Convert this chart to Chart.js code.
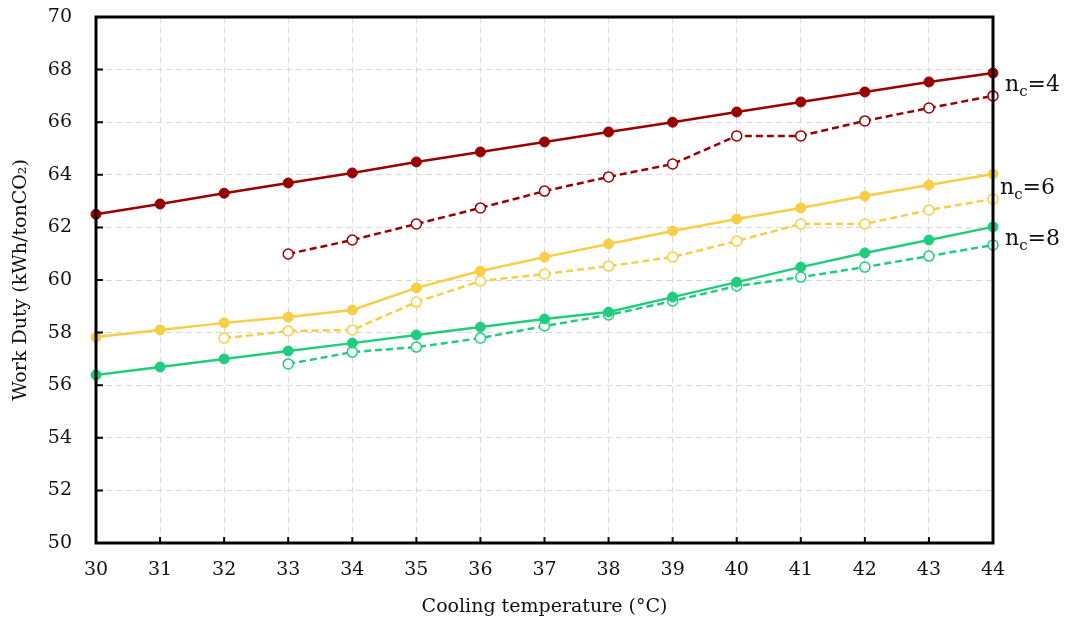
<!DOCTYPE html>
<html>
<head>
<meta charset="utf-8">
<script src="https://cdn.jsdelivr.net/npm/chart.js@4.4.1/dist/chart.umd.min.js"></script>
<style>
  body { margin: 0; background: #fff; }
  #wrap { width: 1069px; height: 626px; position: relative; }
</style>
</head>
<body>
<div id="wrap"><canvas id="workDuty"></canvas></div>
<script>
// cooling temperature (°C)
const temps = [30, 31, 32, 33, 34, 35, 36, 37, 38, 39, 40, 41, 42, 43, 44];

// work duty (kWh/tonCO2), solid = filled markers, dashed = open markers
const nc4Solid  = [62.5, 62.89, 63.3, 63.69, 64.07, 64.49, 64.87, 65.25, 65.63, 66.0, 66.39, 66.77, 67.15, 67.53, 67.87];
const nc4Dashed = [null, null, null, 60.99, 61.52, 62.13, 62.74, 63.38, 63.92, 64.41, 65.48, 65.48, 66.05, 66.54, 67.0];
const nc6Solid  = [57.83, 58.1, 58.37, 58.59, 58.86, 59.7, 60.34, 60.87, 61.37, 61.86, 62.32, 62.74, 63.19, 63.61, 64.03];
const nc6Dashed = [null, null, 57.79, 58.06, 58.1, 59.16, 59.96, 60.23, 60.53, 60.87, 61.48, 62.13, 62.13, 62.66, 63.08];
const nc8Solid  = [56.39, 56.69, 57.0, 57.3, 57.6, 57.91, 58.21, 58.52, 58.78, 59.35, 59.92, 60.49, 61.03, 61.52, 62.02];
const nc8Dashed = [null, null, null, 56.81, 57.26, 57.45, 57.79, 58.25, 58.67, 59.2, 59.77, 60.11, 60.49, 60.91, 61.33];

const yTicks = [50, 52, 54, 56, 58, 60, 62, 64, 66, 68, 70];

const red = '#990000';
const yellow = '#F7CE45';
const green = '#22CC7F';
const FONT = 'DejaVu Serif';

function toPoints(values) {
  return temps.map((t, i) => ({ x: t, y: values[i] })).filter(p => p.y !== null);
}

function solid(label, values, color) {
  return {
    label: label,
    data: toPoints(values),
    borderColor: color,
    backgroundColor: color,
    borderWidth: 2.5,
    pointRadius: 5,
    pointBorderWidth: 1,
    pointBackgroundColor: color,
    pointBorderColor: color,
    clip: false
  };
}

function dashed(label, values, color) {
  return {
    label: label,
    data: toPoints(values),
    borderColor: color,
    backgroundColor: '#fff',
    borderWidth: 2.5,
    borderDash: [7, 4],
    pointRadius: 5,
    pointBorderWidth: 1.5,
    pointBackgroundColor: '#fff',
    pointBorderColor: color,
    clip: false
  };
}

// frame, inward ticks and the n_c labels
const framePlugin = {
  id: 'frame',
  afterDraw(chart) {
    const ctx = chart.ctx;
    const a = chart.chartArea;
    const xs = chart.scales.x, ys = chart.scales.y;
    ctx.save();
    ctx.strokeStyle = '#000';
    ctx.lineWidth = 2;
    ctx.beginPath();
    temps.forEach(t => {
      const px = xs.getPixelForValue(t);
      ctx.moveTo(px, a.bottom);
      ctx.lineTo(px, a.bottom - 6);
    });
    yTicks.forEach(v => {
      const py = ys.getPixelForValue(v);
      ctx.moveTo(a.left, py);
      ctx.lineTo(a.left + 7, py);
    });
    ctx.stroke();
    ctx.lineWidth = 3;
    ctx.strokeRect(a.left, a.top, a.right - a.left, a.bottom - a.top);

    const labels = [
      { n: '4', x: 1005, y: 91 },
      { n: '6', x: 1000, y: 194 },
      { n: '8', x: 1005, y: 245 }
    ];
    ctx.fillStyle = '#111';
    ctx.textBaseline = 'alphabetic';
    ctx.textAlign = 'left';
    labels.forEach(l => {
      ctx.font = '22px "' + FONT + '"';
      ctx.fillText('n', l.x, l.y);
      let w = ctx.measureText('n').width;
      ctx.font = '15px "' + FONT + '"';
      ctx.fillText('c', l.x + w, l.y + 5);
      w += ctx.measureText('c').width;
      ctx.font = '22px "' + FONT + '"';
      ctx.fillText('=' + l.n, l.x + w, l.y);
    });
    ctx.restore();
  }
};

const gridStyle = {
  color: '#d9d9d9',
  lineWidth: 1,
  drawTicks: false
};

new Chart(document.getElementById('workDuty'), {
  type: 'line',
  data: {
    datasets: [
      solid('nc=4', nc4Solid, red),
      dashed('nc=4 dashed', nc4Dashed, red),
      solid('nc=6', nc6Solid, yellow),
      dashed('nc=6 dashed', nc6Dashed, yellow),
      solid('nc=8', nc8Solid, green),
      dashed('nc=8 dashed', nc8Dashed, green)
    ]
  },
  options: {
    responsive: true,
    maintainAspectRatio: false,
    animation: false,
    layout: { padding: { top: 17, right: 76, left: 0, bottom: 0 } },
    plugins: {
      legend: { display: false },
      tooltip: { enabled: false }
    },
    scales: {
      x: {
        type: 'linear',
        min: 30,
        max: 44,
        afterBuildTicks: s => { s.ticks = temps.map(v => ({ value: v })); },
        afterFit: s => { s.height = 83; s.paddingLeft = 0; s.paddingRight = 0; },
        border: { display: false, dash: [6, 4] },
        grid: gridStyle,
        ticks: {
          padding: 16,
          color: '#111',
          font: { family: FONT, size: 19 }
        },
        title: {
          display: true,
          text: 'Cooling temperature (°C)',
          color: '#111',
          font: { family: FONT, size: 19 },
          padding: { top: 4, bottom: 8 }
        }
      },
      y: {
        min: 50,
        max: 70,
        afterBuildTicks: s => { s.ticks = yTicks.map(v => ({ value: v })); },
        afterFit: s => { s.width = 96; s.paddingTop = 0; s.paddingBottom = 0; },
        border: { display: false, dash: [6, 4] },
        grid: gridStyle,
        ticks: {
          padding: 24,
          color: '#111',
          font: { family: FONT, size: 19 }
        },
        title: {
          display: true,
          text: 'Work Duty (kWh/tonCO₂)',
          color: '#111',
          font: { family: FONT, size: 19 },
          padding: { top: 10, bottom: 2 }
        }
      }
    }
  },
  plugins: [framePlugin]
});
</script>
</body>
</html>
